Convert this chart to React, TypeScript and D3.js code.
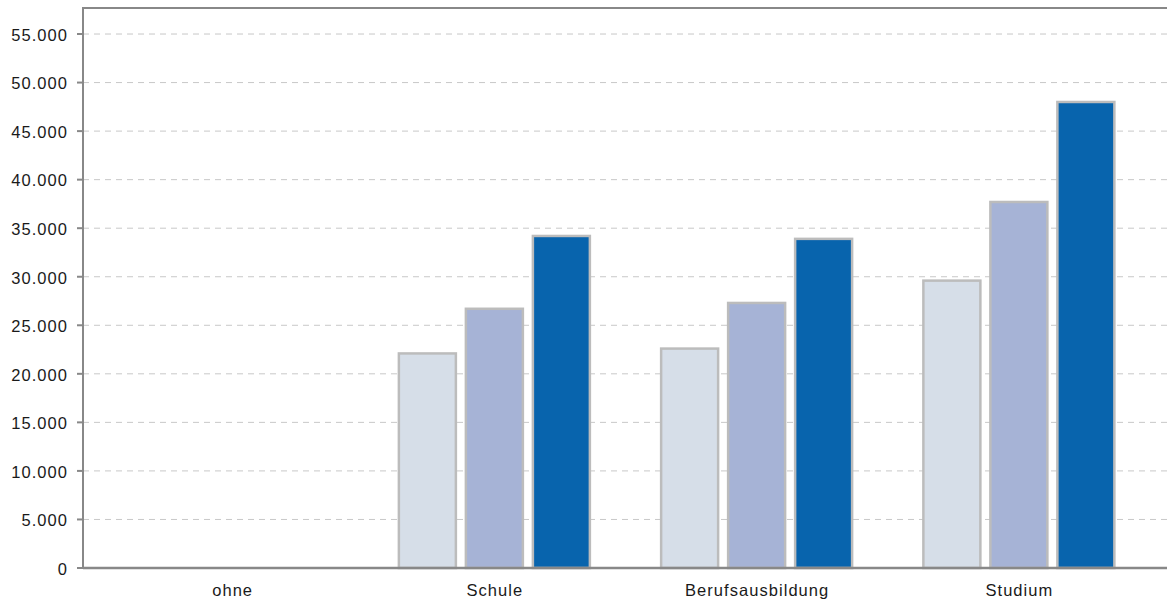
import React from "react";
import * as d3 from "d3";

const categories = ["ohne", "Schule", "Berufsausbildung", "Studium"];
const series1 = [0, 22100, 22600, 29600];
const series2 = [0, 26700, 27300, 37700];
const series3 = [0, 34200, 33900, 48000];
const seriesColors = ["#d6dee8", "#a6b3d6", "#0864ad"];
const yTicks = [0, 5000, 10000, 15000, 20000, 25000, 30000, 35000, 40000, 45000, 50000, 55000];

const W = 1167;
const H = 600;
const left = 83;
const top = 8;
const bottom = 568;

export default function App() {
  const seriesList = [series1, series2, series3];
  const y = d3.scaleLinear().domain([0, 57680]).range([bottom, top]);
  const x = d3.scaleBand<string>().domain(categories).range([101, 1150]).paddingInner(0).paddingOuter(0);
  const barW = 57;
  const gap = 10;
  const groupW = barW * 3 + gap * 2;
  const fmt = (v: number) => d3.format(",")(v).replace(/,/g, ".");
  const fs = 16.5;
  const ls = 1.05;
  return (
    <svg width={W} height={H} style={{ position: "absolute", left: 0, top: 0, fontFamily: "'Liberation Sans', Arial, sans-serif" }}>
      <rect width={W} height={H} fill="#fff" />
      {yTicks.map((t) => (
        <g key={t}>
          {t > 0 && (
            <line x1={left} x2={W} y1={y(t)} y2={y(t)} stroke="#c8c8c8" strokeWidth={1} strokeDasharray="6,5" />
          )}
          <line x1={left - 6} x2={left} y1={y(t)} y2={y(t)} stroke="#888" strokeWidth={2} />
          <text x={left - 16 + ls} y={y(t) + 1} dy="0.35em" textAnchor="end" fontSize={fs} letterSpacing={ls} fill="#1a1a1a">
            {fmt(t)}
          </text>
        </g>
      ))}
      {categories.map((c, i) => {
        const cx = (x(c) as number) + x.bandwidth() / 2;
        const x0 = cx - groupW / 2;
        return (
          <g key={c}>
            {seriesList.map((s, j) =>
              s[i] > 0 ? (
                <rect
                  key={j}
                  x={x0 + j * (barW + gap)}
                  y={y(s[i])}
                  width={barW}
                  height={bottom - y(s[i])}
                  fill={seriesColors[j]}
                  stroke="#bcbcbc"
                  strokeWidth={2.5}
                />
              ) : null
            )}
            <text x={cx + ls / 2} y={590} dy="0.35em" textAnchor="middle" fontSize={fs} letterSpacing={ls} fill="#1a1a1a">
              {c}
            </text>
          </g>
        );
      })}
      <line x1={left} x2={W} y1={top} y2={top} stroke="#888" strokeWidth={2} />
      <line x1={left} x2={left} y1={top - 1} y2={bottom + 1} stroke="#888" strokeWidth={2} />
      <line x1={left} x2={W} y1={bottom} y2={bottom} stroke="#888" strokeWidth={2.5} />
    </svg>
  );
}
